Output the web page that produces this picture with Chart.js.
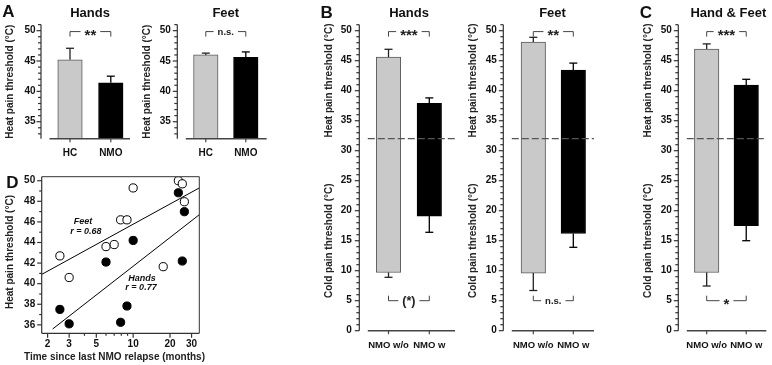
<!DOCTYPE html>
<html><head><meta charset="utf-8">
<script src="https://cdn.jsdelivr.net/npm/chart.js@4.4.1/dist/chart.umd.min.js"></script>
<style>
html,body{margin:0;padding:0;background:#fff;}
#wrap{position:relative;width:772px;height:365px;overflow:hidden;font-family:"Liberation Sans",Arial,sans-serif;background:#fff;}
#wrap canvas{position:absolute;left:0;top:0;}
.lbl{position:absolute;font-weight:bold;line-height:1;transform:translate(-50%,-50%);white-space:nowrap;color:#111;}
</style></head><body>
<div id="wrap">
<canvas id="cAH" width="772" height="365"></canvas>
<canvas id="cAF" width="772" height="365"></canvas>
<canvas id="cBH" width="772" height="365"></canvas>
<canvas id="cBF" width="772" height="365"></canvas>
<canvas id="cC" width="772" height="365"></canvas>
<canvas id="cD" width="772" height="365"></canvas>
<div class="lbl" style="left:8.5px;top:11px;font-size:17px">A</div>
<div class="lbl" style="left:90px;top:11.5px;font-size:13px">Hands</div>
<div class="lbl" style="left:225.8px;top:11.5px;font-size:13px">Feet</div>
<div class="lbl" style="left:326.7px;top:12px;font-size:17px">B</div>
<div class="lbl" style="left:409px;top:11.5px;font-size:13px">Hands</div>
<div class="lbl" style="left:552.5px;top:11.5px;font-size:13px">Feet</div>
<div class="lbl" style="left:645.8px;top:12px;font-size:17px">C</div>
<div class="lbl" style="left:728.3px;top:11.5px;font-size:13px">Hand &amp; Feet</div>
<div class="lbl" style="left:12.5px;top:181.7px;font-size:17px">D</div>
</div>
<script>
// ---------------- data ----------------
const groupsA = ['HC', 'NMO'];
const groupsB = ['NMO w/o', 'NMO w'];

const aHandsHeat = [45.2, 41.4];
const aHandsHeatErr = [47.1, 42.5];
const aFeetHeat = [46.0, 45.6];
const aFeetHeatErr = [46.3, 46.5];

const bHandsHeat = [45.6, 37.9];
const bHandsHeatErr = [46.9, 38.8];
const bHandsCold = [9.7, 19.1];
const bHandsColdErr = [8.9, 16.4];

const bFeetHeat = [48.1, 43.45];
const bFeetHeatErr = [48.9, 44.6];
const bFeetCold = [9.6, 16.2];
const bFeetColdErr = [6.7, 13.9];

const cHeat = [46.95, 40.95];
const cHeatErr = [47.8, 41.9];
const cCold = [9.7, 17.5];
const cColdErr = [7.45, 15.0];

const baselineTemp = 32;

const feetMonths = [2.52, 3.0, 6.0, 7.0, 7.9, 8.9, 10.0, 17.6, 23.4, 25.2, 26.2];
const feetHeat   = [42.7, 40.6, 43.6, 43.8, 46.2, 46.2, 49.3, 41.65, 50.0, 49.7, 47.96];
const handsMonths = [2.52, 3.0, 6.0, 7.9, 8.9, 10.0, 23.4, 26.2, 25.2];
const handsHeat   = [37.5, 36.1, 42.1, 36.25, 37.83, 44.2, 48.83, 46.99, 42.2];
const feetFitMonths = [1.79, 34.7];
const feetFitHeat   = [40.9, 49.3];
const handsFitMonths = [2.2, 34.7];
const handsFitHeat   = [35.6, 46.7];

const logTickValues = [2, 3, 4, 5, 6, 7, 8, 9, 10, 20, 30];
const logTickLabels = [2, 3, 5, 10, 20, 30];

// ---------------- styling / layout ----------------
const W = 772, H = 365;
const FAM = "'Liberation Sans', Arial, sans-serif";
Chart.defaults.font.family = FAM;
const GRAY = '#c9c9c9', GRAY_EDGE = '#5a5a5a', AXIS = '#333';
const TICK_FONT = {family: FAM, size: 10, weight: 'bold'};

function seg(ctx, x1, y1, x2, y2) { ctx.beginPath(); ctx.moveTo(x1, y1); ctx.lineTo(x2, y2); ctx.stroke(); }

function vTitle(ctx, text, x, y) {
  ctx.save();
  ctx.translate(x, y); ctx.rotate(-Math.PI / 2);
  ctx.font = 'bold 10px ' + FAM; ctx.fillStyle = '#222';
  ctx.textAlign = 'center'; ctx.textBaseline = 'middle';
  ctx.fillText(text, 0, 0);
  ctx.restore();
}

function bracket(ctx, x1, x2, y, dir, text) {
  const starOnly = /^\*+$/.test(text);
  const size = starOnly ? 15 : (text === 'n.s.' ? 9.5 : 12.5);
  ctx.font = 'bold ' + size + 'px ' + FAM;
  const w = ctx.measureText(text).width;
  const mid = (x1 + x2) / 2, g = w / 2 + 4;
  ctx.strokeStyle = '#444'; ctx.lineWidth = 1;
  seg(ctx, x1, y + dir * 5, x1, y); seg(ctx, x1, y, mid - g, y);
  seg(ctx, mid + g, y, x2, y); seg(ctx, x2, y, x2, y + dir * 5);
  ctx.fillStyle = '#222'; ctx.textAlign = 'center';
  if (starOnly) { ctx.textBaseline = 'alphabetic'; ctx.fillText(text, mid, y + 0.58 * size); }
  else { ctx.textBaseline = 'middle'; ctx.fillText(text, mid, y + 0.5); }
}

function barDecor(p) {
  return {
    id: 'barDecor',
    afterDatasetsDraw(chart) {
      const ctx = chart.ctx, ca = chart.chartArea, xs = chart.scales.x, ys = chart.scales.y;
      ctx.save();
      if (p.cold) {
        const yb = ys.getPixelForValue(baselineTemp);
        ctx.strokeStyle = '#555'; ctx.lineWidth = 1.2; ctx.setLineDash([7, 3]);
        seg(ctx, ca.left + 8.5, yb, ca.right, yb);
        ctx.setLineDash([]);
      }
      const meta = chart.getDatasetMeta(0);
      const errs = [{from: p.heat, to: p.heatErr}];
      if (p.cold) errs.push({from: p.cold, to: p.coldErr});
      errs.forEach(e => e.from.forEach((v, i) => {
        const x = meta.data[i].x;
        const y1 = ys.getPixelForValue(v), y2 = ys.getPixelForValue(e.to[i]);
        ctx.strokeStyle = i === 0 ? '#222' : '#000'; ctx.lineWidth = 1.3;
        seg(ctx, x, y1, x, y2); seg(ctx, x - 4, y2, x + 4, y2);
      }));
      ctx.strokeStyle = AXIS; ctx.lineWidth = 1.2;
      seg(ctx, ca.left, ca.top, ca.left, ca.bottom);
      ys.ticks.forEach(t => {
        const y = ys.getPixelForValue(t.value);
        const L = (t.value % 5 === 0) ? 4.5 : 3;
        seg(ctx, ca.left - L, y, ca.left, y);
      });
      ctx.lineWidth = 1.6; ctx.strokeStyle = '#444';
      seg(ctx, ca.left + 8.5, ca.bottom, ca.right, ca.bottom);
      ctx.lineWidth = 1.2;
      p.groups.forEach((g, i) => { const x = xs.getPixelForValue(i + 1); seg(ctx, x, ca.bottom, x, ca.bottom + 3.5); });
      const x1 = xs.getPixelForValue(1), x2 = xs.getPixelForValue(2);
      bracket(ctx, x1, x2, ys.getPixelForValue(p.sigTop.y), 1, p.sigTop.text);
      if (p.sigBottom) bracket(ctx, x1, x2, ys.getPixelForValue(p.sigBottom.y), -1, p.sigBottom.text);
      p.titles.forEach(t => vTitle(ctx, t.text, ca.left - 30.5, ys.getPixelForValue(t.center)));
      ctx.restore();
    }
  };
}

function makeBarPanel(p) {
  const u = p.px.c2 - p.px.c1;
  const xMin = 1 - (p.px.c1 - p.px.left) / u;
  const xMax = 2 + (p.px.right - p.px.c2) / u;
  const floating = !!p.cold;
  const data = p.groups.map((g, i) => ({x: i + 1, y: floating ? [p.cold[i], p.heat[i]] : p.heat[i]}));
  const YW = 40, XH = 30;
  new Chart(document.getElementById(p.canvas), {
    type: 'bar',
    data: {datasets: [{data, backgroundColor: [GRAY, '#000'], borderColor: [GRAY_EDGE, '#000'], borderWidth: 1,
      borderSkipped: floating ? false : 'start', barThickness: 24.5}]},
    options: {
      responsive: false, animation: false, events: [],
      layout: {padding: {left: p.px.left - YW, top: p.px.top, right: W - p.px.right, bottom: H - p.px.bottom - XH}},
      plugins: {legend: {display: false}, tooltip: {enabled: false}},
      scales: {
        x: {type: 'linear', offset: false, min: xMin, max: xMax,
          grid: {display: false, drawTicks: false}, border: {display: false},
          afterBuildTicks: s => { s.ticks = p.groups.map((g, i) => ({value: i + 1})); },
          ticks: {autoSkip: false, maxRotation: 0, padding: p.xPad, font: {family: FAM, size: p.xFont, weight: 'bold'}, color: '#111',
            callback: v => p.groups[Math.round(v) - 1]},
          afterFit: s => { s.height = XH; }},
        y: {min: p.yRange[0], max: p.yRange[1],
          grid: {display: false, drawTicks: false}, border: {display: false},
          ticks: {stepSize: 1, includeBounds: false, autoSkip: false, padding: p.yPad, font: TICK_FONT, color: '#111',
            callback: v => (v % 5 === 0 ? String(v) : '')},
          afterFit: s => { s.width = YW; }}
      }
    },
    plugins: [barDecor(p)]
  });
}

const heatTitle = 'Heat pain threshold (°C)';
const coldTitle = 'Cold pain threshold (°C)';

makeBarPanel({canvas: 'cAH', px: {left: 41, c1: 70, c2: 110.8, right: 130, top: 24.6, bottom: 138.7},
  yRange: [32.2, 51], groups: groupsA, heat: aHandsHeat, heatErr: aHandsHeatErr,
  sigTop: {text: '**', y: 49.85}, titles: [{text: heatTitle, center: 41.6}], xFont: 10, xPad: 8.3, yPad: 5.5});
makeBarPanel({canvas: 'cAF', px: {left: 177.3, c1: 205.8, c2: 245.8, right: 266.7, top: 24.6, bottom: 138.7},
  yRange: [32.2, 51], groups: groupsA, heat: aFeetHeat, heatErr: aFeetHeatErr,
  sigTop: {text: 'n.s.', y: 49.85}, titles: [{text: heatTitle, center: 41.6}], xFont: 10, xPad: 8.3, yPad: 6.5});
makeBarPanel({canvas: 'cBH', px: {left: 359.3, c1: 388.5, c2: 429.3, right: 455, top: 24.7, bottom: 330.7},
  yRange: [0, 51], groups: groupsB, heat: bHandsHeat, heatErr: bHandsHeatErr, cold: bHandsCold, coldErr: bHandsColdErr,
  sigTop: {text: '***', y: 49.85}, sigBottom: {text: '(*)', y: 5},
  titles: [{text: heatTitle, center: 41.7}, {text: coldTitle, center: 15}], xFont: 9.5, xPad: 8.6, yPad: 7.5});
makeBarPanel({canvas: 'cBF', px: {left: 503.3, c1: 533.3, c2: 573.3, right: 594, top: 24.7, bottom: 330.7},
  yRange: [0, 51], groups: groupsB, heat: bFeetHeat, heatErr: bFeetHeatErr, cold: bFeetCold, coldErr: bFeetColdErr,
  sigTop: {text: '**', y: 49.85}, sigBottom: {text: 'n.s.', y: 5},
  titles: [{text: heatTitle, center: 41.7}, {text: coldTitle, center: 15}], xFont: 9.5, xPad: 8.6, yPad: 6.5});
makeBarPanel({canvas: 'cC', px: {left: 678.3, c1: 707, c2: 747, right: 767.3, top: 24.7, bottom: 330.7},
  yRange: [0, 51], groups: groupsB, heat: cHeat, heatErr: cHeatErr, cold: cCold, coldErr: cColdErr,
  sigTop: {text: '***', y: 49.85}, sigBottom: {text: '*', y: 5},
  titles: [{text: heatTitle, center: 41.7}, {text: coldTitle, center: 15}], xFont: 9.5, xPad: 8.6, yPad: 6.5});

// ---------------- panel D ----------------
const dAnnotations = [
  {text: 'Feet', x: 3.89, y: 46.0}, {text: 'r = 0.68', x: 4.11, y: 45.05},
  {text: 'Hands', x: 11.83, y: 40.52}, {text: 'r = 0.77', x: 11.59, y: 39.6}
];
const dDecor = {
  id: 'dDecor',
  afterDatasetsDraw(chart) {
    const ctx = chart.ctx, ca = chart.chartArea, xs = chart.scales.x, ys = chart.scales.y;
    ctx.save();
    ctx.strokeStyle = AXIS; ctx.lineWidth = 1.2;
    seg(ctx, ca.left, ca.top, ca.left, ca.bottom);
    seg(ctx, ca.left, ca.bottom, ca.right, ca.bottom);
    ctx.lineWidth = 1;
    seg(ctx, ca.left, ca.top, ca.right, ca.top);
    seg(ctx, ca.right, ca.top, ca.right, ca.bottom);
    ctx.lineWidth = 1.2;
    ys.ticks.forEach(t => {
      const y = ys.getPixelForValue(t.value);
      seg(ctx, ca.left - (t.value % 2 === 0 ? 4.5 : 2.5), y, ca.left, y);
    });
    xs.ticks.forEach(t => {
      const x = xs.getPixelForValue(t.value);
      seg(ctx, x, ca.bottom, x, ca.bottom + (logTickLabels.includes(t.value) ? 4.5 : 2.5));
    });
    ctx.font = 'italic bold 9px ' + FAM; ctx.fillStyle = '#111';
    ctx.textAlign = 'center'; ctx.textBaseline = 'middle';
    dAnnotations.forEach(a => ctx.fillText(a.text, xs.getPixelForValue(a.x), ys.getPixelForValue(a.y)));
    vTitle(ctx, heatTitle, ca.left - 31.5, (ca.top + ca.bottom) / 2 - 3);
    ctx.font = 'bold 10px ' + FAM; ctx.fillStyle = '#222';
    ctx.fillText('Time since last NMO relapse (months)', (ca.left + ca.right) / 2 - 6, ca.bottom + 24);
    ctx.restore();
  }
};
const dPx = {left: 41.7, right: 199.3, top: 176.7, bottom: 333.3};
new Chart(document.getElementById('cD'), {
  type: 'scatter',
  data: {datasets: [
    {type: 'line', data: feetFitMonths.map((x, i) => ({x, y: feetFitHeat[i]})), borderColor: '#000', borderWidth: 1, pointRadius: 0, order: 2},
    {type: 'line', data: handsFitMonths.map((x, i) => ({x, y: handsFitHeat[i]})), borderColor: '#000', borderWidth: 1, pointRadius: 0, order: 2},
    {data: feetMonths.map((x, i) => ({x, y: feetHeat[i]})), pointRadius: 4.1, backgroundColor: '#fff', borderColor: '#000', borderWidth: 1, order: 1},
    {data: handsMonths.map((x, i) => ({x, y: handsHeat[i]})), pointRadius: 4.1, backgroundColor: '#000', borderColor: '#000', borderWidth: 1, order: 1}
  ]},
  options: {
    responsive: false, animation: false, events: [],
    layout: {padding: {left: dPx.left - 40, top: dPx.top, right: W - dPx.right, bottom: H - dPx.bottom - 30}},
    plugins: {legend: {display: false}, tooltip: {enabled: false}},
    scales: {
      x: {type: 'logarithmic', min: 1.79, max: 34.7,
        grid: {display: false, drawTicks: false}, border: {display: false},
        afterBuildTicks: s => { s.ticks = logTickValues.map(v => ({value: v})); },
        ticks: {autoSkip: false, maxRotation: 0, padding: 5, font: TICK_FONT, color: '#111',
          callback: v => (logTickLabels.includes(v) ? String(v) : '')},
        afterFit: s => { s.height = 30; }},
      y: {min: 35.18, max: 50.39,
        grid: {display: false, drawTicks: false}, border: {display: false},
        ticks: {stepSize: 1, includeBounds: false, autoSkip: false, padding: 6.5, font: TICK_FONT, color: '#111',
          callback: v => (v % 2 === 0 ? String(v) : '')},
        afterFit: s => { s.width = 40; }}
    }
  },
  plugins: [dDecor]
});
</script>
</body></html>
